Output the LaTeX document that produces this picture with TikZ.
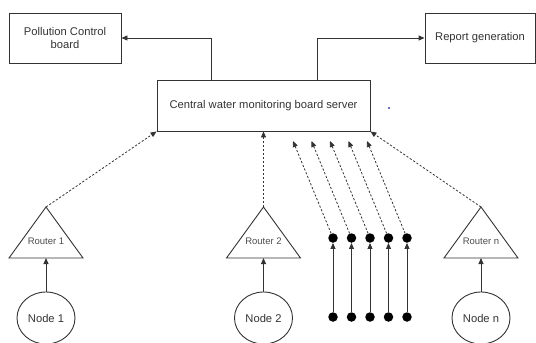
\documentclass[tikz,border=0pt]{standalone}
\usepackage{fontspec}
\setmainfont{Liberation Sans}
\usetikzlibrary{arrows.meta,shapes.geometric}
\definecolor{ink}{HTML}{333333}
\definecolor{speck}{HTML}{3A3AA8}
\tikzset{
  box/.style={draw=ink, line width=0.9pt, rectangle, inner sep=0pt, align=center,
    text=ink, font=\fontsize{11.2}{13}\selectfont},
  sensor/.style={draw=ink, line width=0.9pt, ellipse, minimum width=58pt, minimum height=52pt,
    inner sep=0pt, text=ink, font=\fontsize{11.2}{13}\selectfont},
  routerlbl/.style={inner sep=0pt, text=black!70, font=\fontsize{9.5}{11}\selectfont},
  tri/.style={draw=ink, line width=0.9pt, line join=miter},
  dot/.style={circle, fill=black, inner sep=0pt, minimum size=9.5pt},
  link/.style={draw=ink, line width=0.9pt, -{Triangle[length=6pt,width=5pt]}},
  wireless/.style={draw=ink, line width=0.8pt, dash pattern=on 2.2pt off 1.8pt,
    -{Triangle[length=6pt,width=5pt]}}
}
\begin{document}
\begin{tikzpicture}[x=1pt,y=-1pt]
\useasboundingbox (0,0) rectangle (536,343);

% top-level boxes
\node[box, minimum width=112pt, minimum height=50pt] (pcb) at (65,38) {Pollution Control\\board};
\node[box, minimum width=110pt, minimum height=50pt] (rep) at (480,38) {Report generation};
\node[box, minimum width=213pt, minimum height=51pt] (srv) at (263.5,105.5) {Central water monitoring board server};
\fill[speck] (389,108) circle (1.1pt);

\draw[link] ([xshift=-52.5pt]srv.north) |- (pcb.east);
\draw[link] ([xshift=53.5pt]srv.north) |- (rep.west);

% routers
\foreach \n/\cx/\lbl in {1/46/Router 1, 2/263.5/Router 2, 3/481/Router n}{
  \coordinate (r\n apex) at (\cx,207);
  \coordinate (r\n base) at (\cx,258);
  \draw[tri] (\cx-37,258) -- (r\n apex) -- (\cx+37,258) -- cycle;
  \node[routerlbl] (r\n) at (\cx,241) {\lbl};
}

% sensor nodes
\node[sensor] (n1) at (46,318) {Node 1};
\node[sensor] (n2) at (263.5,318) {Node 2};
\node[sensor] (n3) at (481,318) {Node n};

\draw[link] (n1) -- (r1base);
\draw[link] (n2) -- (r2base);
\draw[link] (n3) -- (r3base);

\draw[wireless] (r1apex) -- (srv.south west);
\draw[wireless] (r2apex) -- (srv.south);
\draw[wireless] (r3apex) -- (srv.south east);

% directly attached sensor pairs
\foreach \i/\cx in {1/333, 2/351.5, 3/370, 4/388.5, 5/407}{
  \node[dot] (t\i) at (\cx,238) {};
  \node[dot] (b\i) at (\cx,317) {};
  \coordinate (e\i) at (\cx-40,141);
  \draw[link] (b\i) -- (t\i);
  \draw[wireless] (t\i) -- (e\i);
}
\end{tikzpicture}
\end{document}
